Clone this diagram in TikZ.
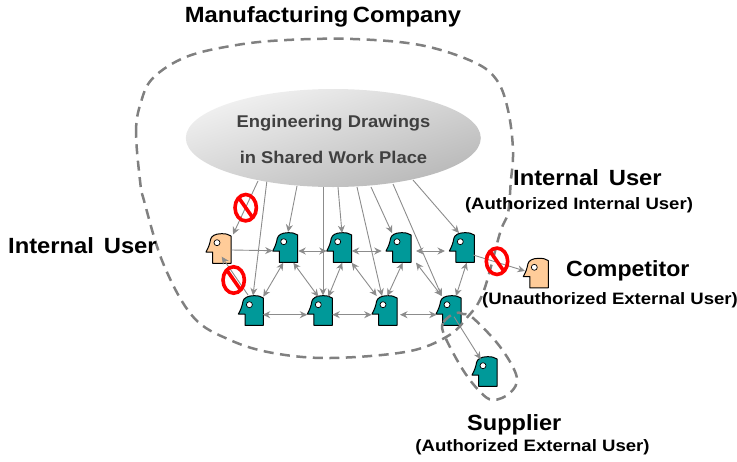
\documentclass[tikz,border=0pt]{standalone}
\usepackage{fontspec}
\setmainfont{Liberation Sans}
\definecolor{tealhead}{HTML}{009999}
\definecolor{orangehead}{HTML}{FFCC99}
\definecolor{linkgray}{HTML}{8C8C8C}
\definecolor{dashgray}{HTML}{808080}
\definecolor{elltext}{HTML}{404040}
\definecolor{elllight}{HTML}{F2F2F2}
\definecolor{elldark}{HTML}{B8B8B8}
\usetikzlibrary{arrows.meta,shapes.geometric}
\tikzset{
  x=1pt,y=-1pt,
  link/.style={draw=linkgray,line width=0.9pt,-{Stealth[length=7.5pt,width=7pt]}},
  blink/.style={draw=linkgray,line width=0.9pt,{Stealth[length=7.5pt,width=7pt]}-{Stealth[length=7.5pt,width=7pt]}},
  blob/.style={draw=dashgray,line width=2.5pt,dash pattern=on 10pt off 6.5pt},
  anchorbox/.style={minimum width=25pt,minimum height=29pt,inner sep=0pt,outer sep=0pt},
  stopring/.style={draw=red,line width=3.6pt},
  lab/.style={font=\fontsize{22}{26}\selectfont\bfseries,text=black,inner sep=0pt},
  sublab/.style={font=\fontsize{16.5}{20}\selectfont\bfseries,text=black,inner sep=0pt},
  elllab/.style={font=\fontsize{17}{20}\selectfont\bfseries,text=elltext,inner sep=0pt},
}
\newcommand{\wide}[2][1.08]{\scalebox{#1}[1]{#2}}
\newcommand{\headfig}[4]{%
  \node[anchorbox] (#1) at (#2,#3) {};
  \begin{scope}[shift={(#2,#3)}]
    \draw[fill=#4,line width=1pt,line join=round]
      (12.7,-13) .. controls (10,-15) and (7,-15.3) .. (3,-15.3)
      .. controls (-3,-15.3) and (-7,-13) .. (-7.7,-9.7)
      .. controls (-8.5,-5) and (-10,-1) .. (-12.3,3) -- (-5.7,3) -- (-5.7,14.3) -- (12.7,14.3) -- cycle;
    \draw[fill=white,line width=0.7pt] (-1.3,-6.3) circle (3);
  \end{scope}}
\newcommand{\stopsign}[2]{%
  \draw[stopring] (#1,#2) ellipse (10.7 and 13.2);
  \draw[stopring] (#1-7,#2-10) -- (#1+7,#2+10);}
\newcommand{\joinheads}[5]{\path[#1] ([shift={#3}]#2.center) -- ([shift={#5}]#4.center);}
\begin{document}
\begin{tikzpicture}
\useasboundingbox (0,0) rectangle (737,461);
% ellipse anchor points
\coordinate (e1) at (258,181);
\coordinate (e2) at (267,180);
\coordinate (e3) at (297,186);
\coordinate (e4) at (323,186);
\coordinate (e5) at (338,187);
\coordinate (e6) at (357,187);
\coordinate (e7) at (371,187);
\coordinate (e8) at (393,184);
\coordinate (e9) at (413,180);
% heads
\headfig{oa}{218.3}{249}{orangehead}
\headfig{ta}{285}{248}{tealhead}
\headfig{tb}{339}{248}{tealhead}
\headfig{tc}{398.3}{248}{tealhead}
\headfig{td}{461.6}{248}{tealhead}
\headfig{ba}{250.7}{311}{tealhead}
\headfig{bb}{319.6}{311}{tealhead}
\headfig{bc}{384.3}{311}{tealhead}
\headfig{bd}{448.3}{311}{tealhead}
\headfig{sup}{484.3}{372}{tealhead}
\headfig{comp}{535.6}{273.6}{orangehead}
% from the shared work place
\path[link] (e1) -- ([shift={(14.7,-14.5)}]oa.center);
\path[link] (e2) -- ([shift={(2.3,-15.5)}]ba.center);
\path[link] (e3) -- ([shift={(3,-16)}]ta.center);
\path[link] (e4) -- ([shift={(3.4,-15.5)}]bb.center);
\path[link] (e5) -- ([shift={(3,-15)}]tb.center);
\path[link] (e6) -- ([shift={(-2.3,-15)}]bc.center);
\path[link] (e7) -- ([shift={(-6.3,-15)}]tc.center);
\path[link] (e8) -- ([shift={(-6.6,-15)}]bd.center);
\path[link] (e9) -- ([shift={(-2.6,-15)}]td.center);
% grid
\joinheads{blink}{ta}{(-1.7,14.7)}{ba}{(12.6,-14.3)}
\joinheads{blink}{ta}{(8.3,14.7)}{bb}{(-1.3,-14.3)}
\joinheads{blink}{tb}{(3.3,14.7)}{bb}{(8.7,-14.3)}
\joinheads{blink}{tb}{(12.7,14.7)}{bc}{(-7.6,-15)}
\joinheads{blink}{tc}{(4.4,14.7)}{bc}{(3,-15)}
\joinheads{blink}{tc}{(17.7,14.7)}{bd}{(-6.6,-15)}
\joinheads{blink}{td}{(5.1,14.7)}{bd}{(7.7,-15)}
\joinheads{link}{ba}{(-2.7,-16)}{oa}{(3.4,7.7)}
\joinheads{blink}{ta}{(13.3,3)}{tb}{(-12.3,3)}
\joinheads{blink}{tb}{(12.7,3)}{tc}{(-16.6,3)}
\joinheads{blink}{tc}{(17.7,3)}{td}{(-16.6,3)}
\joinheads{link}{oa}{(13.4,1)}{ta}{(-12.3,2.7)}
\joinheads{blink}{ba}{(12,3.7)}{bb}{(-12.3,3.7)}
\joinheads{blink}{bb}{(12.7,3.7)}{bc}{(-12.6,3.7)}
\joinheads{blink}{bc}{(15.7,3.7)}{bd}{(-11.6,3.7)}
\joinheads{link}{td}{(11.7,7)}{comp}{(-10.6,-2.6)}
\joinheads{link}{bd}{(5.7,5.7)}{sup}{(-3.6,-12.7)}
% shared work place
\node[ellipse,minimum width=295pt,minimum height=98pt,inner sep=0pt,
  top color=elllight,bottom color=elldark,shading angle=18] (ell) at (333.3,138) {};
\node[elllab] (ella) at (333.5,123) {\wide[1.08]{Engineering Drawings}};
\node[elllab] (ellb) at (333.5,157) {\wide[1.08]{in Shared Work Place}};
% boundaries
\draw[blob] plot[smooth cycle,tension=0.6] coordinates {
 (140.7,186.7) (136,133) (140.7,103) (153,78) (186.7,56.7) (236.7,45) (286.7,40)
 (353,39) (420,45) (473,61.7) (496.7,80) (508,110) (513,150) (510.7,183) (508,213)
 (500,233) (483,293) (466.7,318) (446.7,336.7) (406.7,351.7) (330,358) (273,353)
 (230,340) (193,316.7) (163,263) (143,197)};
\draw[blob] plot[smooth cycle,tension=0.6] coordinates {
 (455,313) (443,323) (445,336.7) (463,370) (480,391.7) (493,400) (510,393)
 (516.7,376.7) (500,346.7) (473,318) (463,314)};
% no-entry signs
\stopsign{245.7}{207.7}
\stopsign{233.7}{280}
\stopsign{497}{261.3}
% labels
\node[lab] (tmc) at (323,17) {\wide{Manufacturing\hspace{-2pt} Company}};
\node[lab,anchor=west] (til) at (8,246) {\wide{Internal\hspace{3pt} User}};
\node[lab,anchor=west] (tir) at (513,178) {\wide{Internal\hspace{3pt} User}};
\node[sublab] (tai) at (579,205) {\wide[1.125]{(Authorized Internal User)}};
\node[lab,anchor=west] (tco) at (566,271) {\wide[1.05]{Competitor}};
\node[sublab] (tue) at (610,300) {\wide[1.125]{(Unauthorized External User)}};
\node[lab,anchor=west] (tsu) at (467,425) {\wide[1.07]{Supplier}};
\node[sublab] (tae) at (532.5,447) {\wide[1.125]{(Authorized External User)}};
\end{tikzpicture}
\end{document}
